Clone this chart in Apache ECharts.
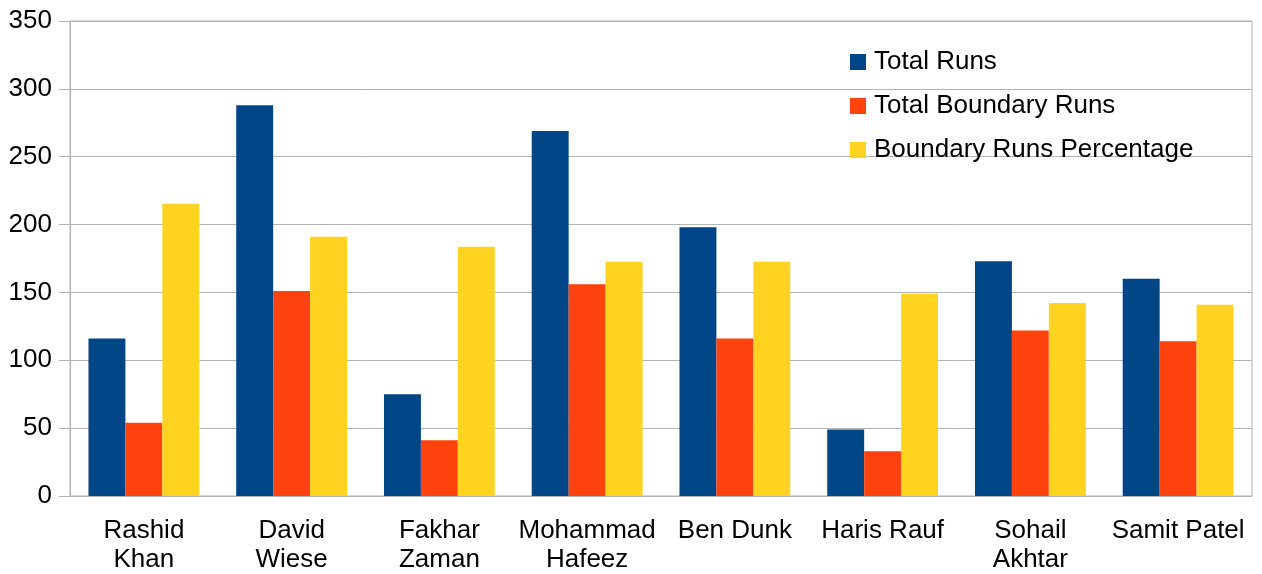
<!DOCTYPE html>
<html>
<head>
<meta charset="utf-8">
<script src="https://cdn.jsdelivr.net/npm/echarts@6/dist/echarts.min.js"></script>
<style>
  html, body { margin: 0; padding: 0; background: #fff; }
  #chart { width: 1262px; height: 574px; }
</style>
</head>
<body>
<div id="chart"></div>
<script>
// player names, '\n' where the original label wraps
const players = ['Rashid\nKhan', 'David\nWiese', 'Fakhar\nZaman', 'Mohammad\nHafeez', 'Ben Dunk', 'Haris Rauf', 'Sohail\nAkhtar', 'Samit Patel'];
const totalRuns = [116, 288, 75, 269, 198, 49, 173, 160];
const boundaryRuns = [54, 151, 41, 156, 116, 33, 122, 114];
const boundaryPct = [215.4, 191, 183.6, 172.6, 172.6, 149, 142.3, 140.9];
const yTicks = { min: 0, max: 350, interval: 50 };

const font = 'Liberation Sans, Arial, sans-serif';
const chart = echarts.init(document.getElementById('chart'));

const option = {
  animation: false,
  backgroundColor: '#fff',
  textStyle: { fontFamily: font },
  grid: { left: 70, right: 10, top: 21, bottom: 78, show: true, borderColor: '#b3b3b3', borderWidth: 1 },
  legend: {
    orient: 'vertical',
    left: 850,
    top: 49,
    padding: 0,
    itemWidth: 16,
    itemHeight: 16,
    itemGap: 18,
    icon: 'rect',
    textStyle: { fontSize: 26, color: '#000', fontFamily: font, padding: [0, 0, 0, 3] },
    data: ['Total Runs', 'Total Boundary Runs', 'Boundary Runs Percentage']
  },
  xAxis: {
    type: 'category',
    data: players,
    axisLine: { lineStyle: { color: '#b3b3b3' } },
    axisTick: { length: 11, lineStyle: { color: '#b3b3b3' } },
    axisLabel: { interval: 0, margin: 20, fontSize: 26, lineHeight: 29, color: '#000', fontFamily: font }
  },
  yAxis: {
    type: 'value',
    min: yTicks.min,
    max: yTicks.max,
    interval: yTicks.interval,
    axisLine: { show: true, lineStyle: { color: '#b3b3b3' } },
    axisTick: { show: true, length: 11, lineStyle: { color: '#b3b3b3' } },
    splitLine: { lineStyle: { color: '#b3b3b3' } },
    axisLabel: { margin: 18, fontSize: 26, color: '#000', fontFamily: font }
  },
  series: [
    { name: 'Total Runs', type: 'bar', data: totalRuns, itemStyle: { color: '#004586' }, barGap: '0%', barCategoryGap: '25%' },
    { name: 'Total Boundary Runs', type: 'bar', data: boundaryRuns, itemStyle: { color: '#ff420e' } },
    { name: 'Boundary Runs Percentage', type: 'bar', data: boundaryPct, itemStyle: { color: '#ffd320' } }
  ]
};

chart.setOption(option);
</script>
</body>
</html>
